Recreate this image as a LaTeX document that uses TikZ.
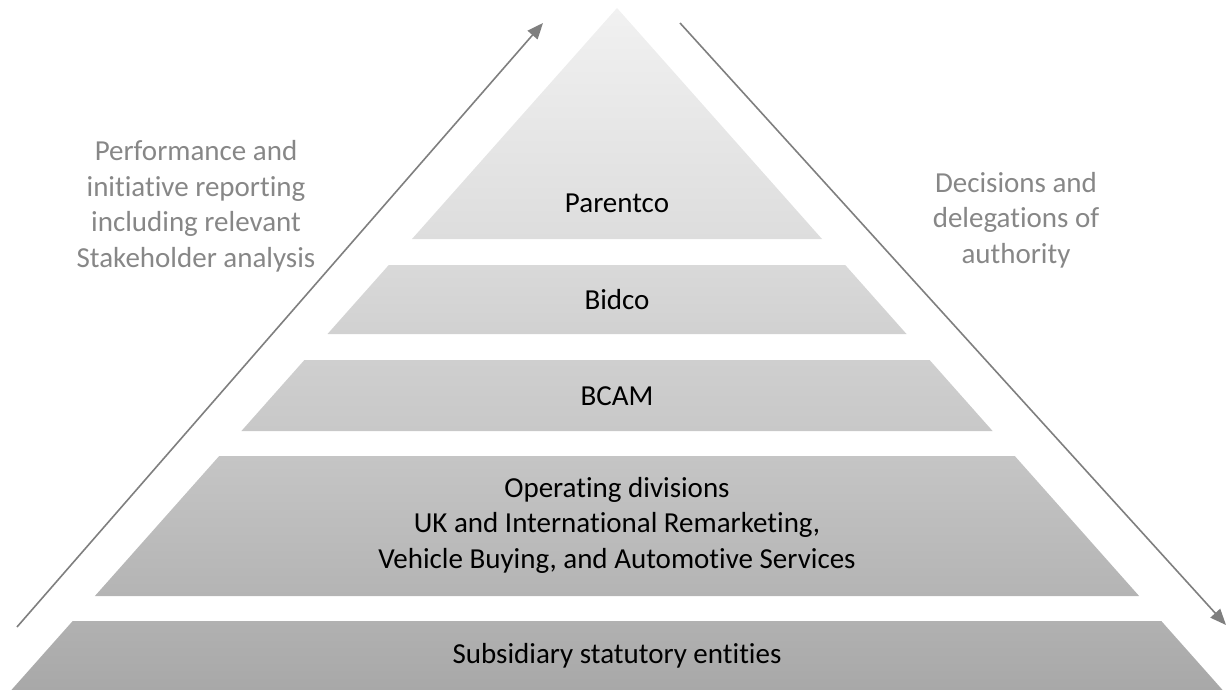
\documentclass[tikz,border=0pt]{standalone}
\usepackage{fontspec}
\setmainfont{Carlito}[Ligatures=NoCommon]
\usetikzlibrary{arrows.meta}

\definecolor{flowgray}{HTML}{7F7F7F}
\definecolor{notegray}{HTML}{878787}

\tikzset{
  flow/.style={draw=flowgray, line width=1.6pt,
    -{Triangle[length=16pt,width=13pt]}},
  level/.style={black, inner sep=0pt, align=center, anchor=base,
    font=\fontsize{29}{35.5}\selectfont},
  note/.style={notegray, inner sep=0pt, align=center, anchor=base,
    font=\fontsize{29}{35.5}\selectfont},
}

\begin{document}
\begin{tikzpicture}[x=1pt,y=-1pt]
  \useasboundingbox (0,0) rectangle (1227,690);

  % pyramid slices (apex at x=617, half-width grows 0.888 per unit of depth)
  \shade[top color={rgb,255:red,241;green,241;blue,241},
         bottom color={rgb,255:red,221;green,221;blue,221}]
    (617,8) -- (822,239) -- (412,239) -- cycle;
  \shade[top color={rgb,255:red,217;green,217;blue,217},
         bottom color={rgb,255:red,209;green,209;blue,209}]
    (388.8,265) -- (845.2,265) -- (906.5,334) -- (327.5,334) -- cycle;
  \shade[top color={rgb,255:red,207;green,207;blue,207},
         bottom color={rgb,255:red,200;green,200;blue,200}]
    (304.4,360) -- (929.6,360) -- (992.6,431) -- (241.4,431) -- cycle;
  \shade[top color={rgb,255:red,197;green,197;blue,197},
         bottom color={rgb,255:red,180;green,180;blue,180}]
    (219.2,456) -- (1014.8,456) -- (1139.1,596) -- (94.9,596) -- cycle;
  \shade[top color={rgb,255:red,177;green,177;blue,177},
         bottom color={rgb,255:red,168;green,168;blue,168}]
    (72.7,621) -- (1161.3,621) -- (1222.6,690) -- (11.4,690) -- cycle;

  % level labels (base anchor sits on the last line's baseline)
  \node[level] (parentco) at (617,212) {Parentco};
  \node[level] (bidco) at (617,309) {Bidco};
  \node[level] (bcam) at (617,405) {BCAM};
  \node[level] (opdiv) at (617,568)
    {Operating divisions\\UK and International Remarketing,\\Vehicle Buying, and Automotive Services};
  \node[level] (subs) at (617,663) {Subsidiary statutory entities};

  % side notes
  \node[note] (upnote) at (196,267)
    {Performance and\\initiative reporting\\including relevant\\Stakeholder analysis};
  \node[note] (downnote) at (1016,263)
    {Decisions and\\delegations of\\authority};

  % reporting flows up, decisions flow down
  \coordinate (upstart) at (17,627);
  \coordinate (upend) at (543,23);
  \coordinate (downstart) at (680,23);
  \coordinate (downend) at (1226,625);
  \draw[flow] (upstart) -- (upend);
  \draw[flow] (downstart) -- (downend);
\end{tikzpicture}
\end{document}
